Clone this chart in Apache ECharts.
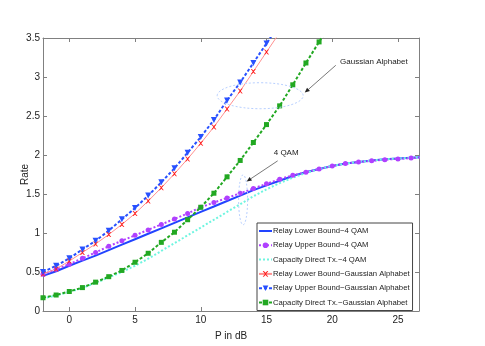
<!DOCTYPE html>
<html>
  <head>
    <meta charset="utf-8" />
    <title>Rate vs P</title>
    <script src="https://cdn.jsdelivr.net/npm/echarts@6/dist/echarts.min.js"></script>
    <style>
      body { margin: 0; background: #fff; }
    </style>
  </head>
  <body>
    <div id="main" style="width: 485px; height: 346px"></div>

    <script type="text/javascript">
      // P in dB, one point per dB
      var p4 = [-2,-1,0,1,2,3,4,5,6,7,8,9,10,11,12,13,14,15,16,17,18,19,20,21,22,23,24,25,26,27];
      var lb4 = [0.45,0.51,0.58,0.645,0.71,0.78,0.85,0.92,0.99,1.06,1.13,1.2,1.27,1.34,1.41,1.48,1.55,1.61,1.67,1.73,1.78,1.82,1.86,1.89,1.91,1.93,1.945,1.955,1.965,1.975];
      var ub4 = [0.47,0.535,0.6,0.675,0.75,0.83,0.9,0.97,1.04,1.11,1.18,1.25,1.33,1.39,1.45,1.51,1.57,1.63,1.69,1.74,1.78,1.82,1.86,1.89,1.91,1.925,1.94,1.95,1.96,1.97];
      var cap4 = [0.16,0.2,0.245,0.295,0.36,0.43,0.5,0.58,0.67,0.77,0.87,0.97,1.07,1.17,1.27,1.37,1.47,1.56,1.64,1.71,1.77,1.82,1.86,1.89,1.91,1.93,1.945,1.955,1.965,1.975];

      var pRelayG = [-2,-1,0,1,2,3,4,5,6,7,8,9,10,11,12,13,14,15,16];
      var lbG = [0.475,0.54,0.64,0.75,0.86,0.98,1.11,1.25,1.41,1.58,1.76,1.95,2.15,2.36,2.59,2.82,3.07,3.32,3.57];
      var ubG = [0.5,0.58,0.675,0.79,0.9,1.03,1.175,1.32,1.48,1.65,1.83,2.03,2.23,2.45,2.7,2.93,3.18,3.43,3.68];

      var pCapG = [-2,-1,0,1,2,3,4,5,6,7,8,9,10,11,12,13,14,15,16,17,18,19,20];
      var capG = [0.17,0.205,0.25,0.3,0.37,0.44,0.52,0.625,0.74,0.88,1.01,1.17,1.33,1.51,1.72,1.93,2.16,2.39,2.63,2.9,3.18,3.45,3.72];

      var xTicks = [0, 5, 10, 15, 20, 25];

      var names = [
        "Relay Lower Bound\u22124 QAM",
        "Relay Upper Bound\u22124 QAM",
        "Capacity Direct Tx.\u22124 QAM",
        "Relay Lower Bound\u2212Gaussian Alphabet",
        "Relay Upper Bound\u2212Gaussian Alphabet",
        "Capacity Direct Tx.\u2212Gaussian Alphabet",
      ];

      function pairs(xs, ys) {
        return xs.map(function (x, i) { return [x, ys[i]]; });
      }

      var crossPath = "path://M0,0L2,0L5,3L8,0L10,0L6,5L10,10L8,10L5,7L2,10L0,10L4,5Z";
      var axisColor = "#808080";
      var sans = "'Liberation Sans', Arial, sans-serif";

      var myChart = echarts.init(document.getElementById("main"));

      var option = {
        animation: false,
        backgroundColor: "#fff",
        grid: { left: 43, right: 66, top: 38, bottom: 27 },
        legend: {
          orient: "vertical",
          left: 257,
          top: 223,
          backgroundColor: "#fff",
          borderColor: "#444",
          borderWidth: 1,
          borderRadius: 0,
          padding: [4, 3, 4, 1],
          itemGap: 6.3,
          itemWidth: 13,
          itemHeight: 7,
          textStyle: { fontFamily: sans, fontSize: 7.7, color: "#222", padding: [0, 0, 0, -4] },
          data: names.map(function (n, i) {
            // plain-line entries carry no marker
            return i === 0 || i === 2 ? { name: n, itemStyle: { opacity: 0 } } : { name: n };
          }),
        },
        xAxis: [
          {
            type: "value",
            min: -2,
            max: 26.6,
            name: "P in dB",
            nameLocation: "middle",
            nameGap: 20,
            nameMoveOverlap: false,
            nameTextStyle: { fontFamily: sans, fontSize: 10, color: "#222" },
            axisLine: { onZero: false, lineStyle: { color: axisColor } },
            axisTick: { inside: true, length: 4, customValues: xTicks, lineStyle: { color: axisColor } },
            axisLabel: { customValues: xTicks, margin: 4, fontFamily: sans, fontSize: 10, color: "#222" },
            splitLine: { show: false },
          },
          {
            type: "value",
            position: "top",
            min: -2,
            max: 26.6,
            axisLine: { show: true, onZero: false, lineStyle: { color: axisColor } },
            axisTick: { inside: true, length: 4, customValues: xTicks, lineStyle: { color: axisColor } },
            axisLabel: { show: false },
            splitLine: { show: false },
          },
        ],
        yAxis: [
          {
            type: "value",
            min: 0,
            max: 3.5,
            interval: 0.5,
            name: "Rate",
            nameLocation: "middle",
            nameGap: 13,
            nameMoveOverlap: false,
            nameTextStyle: { fontFamily: sans, fontSize: 10, color: "#222" },
            axisLine: { show: true, onZero: false, lineStyle: { color: axisColor } },
            axisTick: { show: true, inside: true, length: 4, lineStyle: { color: axisColor } },
            axisLabel: { margin: 3, fontFamily: sans, fontSize: 10, color: "#222" },
            splitLine: { show: false },
          },
          {
            type: "value",
            position: "right",
            min: 0,
            max: 3.5,
            interval: 0.5,
            axisLine: { show: true, onZero: false, lineStyle: { color: axisColor } },
            axisTick: { show: true, inside: true, length: 4, lineStyle: { color: axisColor } },
            axisLabel: { show: false },
            splitLine: { show: false },
          },
        ],
        series: [
          {
            name: names[0],
            type: "line",
            data: pairs(p4, lb4),
            symbol: "none",
            lineStyle: { color: "#2244ff", width: 2 },
            itemStyle: { color: "#2244ff" },
          },
          {
            name: names[1],
            type: "line",
            data: pairs(p4, ub4),
            symbol: "circle",
            symbolSize: 5,
            lineStyle: { color: "#b040ff", width: 2, type: [2, 2] },
            itemStyle: { color: "#b040ff" },
          },
          {
            name: names[2],
            type: "line",
            data: pairs(p4, cap4),
            symbol: "none",
            lineStyle: { color: "#6ff5e0", width: 2, type: [2, 2] },
            itemStyle: { color: "#6ff5e0" },
          },
          {
            name: names[3],
            type: "line",
            data: pairs(pRelayG, lbG),
            symbol: crossPath,
            symbolSize: 5,
            lineStyle: { color: "#ff9090", width: 1 },
            itemStyle: { color: "#ff2020" },
          },
          {
            name: names[4],
            type: "line",
            data: pairs(pRelayG, ubG),
            symbol: "triangle",
            symbolRotate: 180,
            symbolSize: 6,
            lineStyle: { color: "#2850ff", width: 2, type: [3, 2] },
            itemStyle: { color: "#2850ff" },
          },
          {
            name: names[5],
            type: "line",
            data: pairs(pCapG, capG),
            symbol: "rect",
            symbolSize: 5,
            lineStyle: { color: "#22a822", width: 2, type: [3, 2] },
            itemStyle: { color: "#22a822" },
          },
        ],
      };
      myChart.setOption(option);

      // annotations placed in data coordinates
      function px(p, r) {
        return myChart.convertToPixel({ gridIndex: 0 }, [p, r]);
      }
      function arrow(from, to) {
        var a = px(from[0], from[1]);
        var b = px(to[0], to[1]);
        var ang = Math.atan2(b[1] - a[1], b[0] - a[0]);
        var len = 5, w = 2.2;
        var bx = b[0] - len * Math.cos(ang), by = b[1] - len * Math.sin(ang);
        return [
          { type: "line", shape: { x1: a[0], y1: a[1], x2: bx, y2: by }, style: { stroke: "#555", lineWidth: 0.8 }, z: 50 },
          {
            type: "polygon",
            shape: { points: [b, [bx + w * Math.sin(ang), by - w * Math.cos(ang)], [bx - w * Math.sin(ang), by + w * Math.cos(ang)]] },
            style: { fill: "#222" },
            z: 50,
          },
        ];
      }
      function ellipse(p, r, rx, ry) {
        var c = px(p, r);
        return {
          type: "ellipse",
          shape: { cx: c[0], cy: c[1], rx: rx, ry: ry },
          style: { fill: "none", stroke: "#b8d0ff", lineWidth: 1, lineDash: [2, 2] },
          z: 50,
        };
      }
      function label(p, r, text) {
        var c = px(p, r);
        return {
          type: "text",
          x: c[0],
          y: c[1],
          style: { text: text, fontFamily: sans, fontSize: 8, fill: "#222", verticalAlign: "middle" },
          z: 50,
        };
      }

      var graphics = []
        .concat([ellipse(14.52, 2.76, 43, 13), ellipse(13.22, 1.425, 4.5, 25)])
        .concat(arrow([20.27, 3.15], [17.91, 2.8]))
        .concat(arrow([15.85, 1.925], [13.49, 1.66]))
        .concat([label(20.6, 3.19, "Gaussian Alphabet"), label(15.55, 2.025, "4 QAM")]);

      myChart.setOption({ graphic: graphics });
    </script>
  </body>
</html>
